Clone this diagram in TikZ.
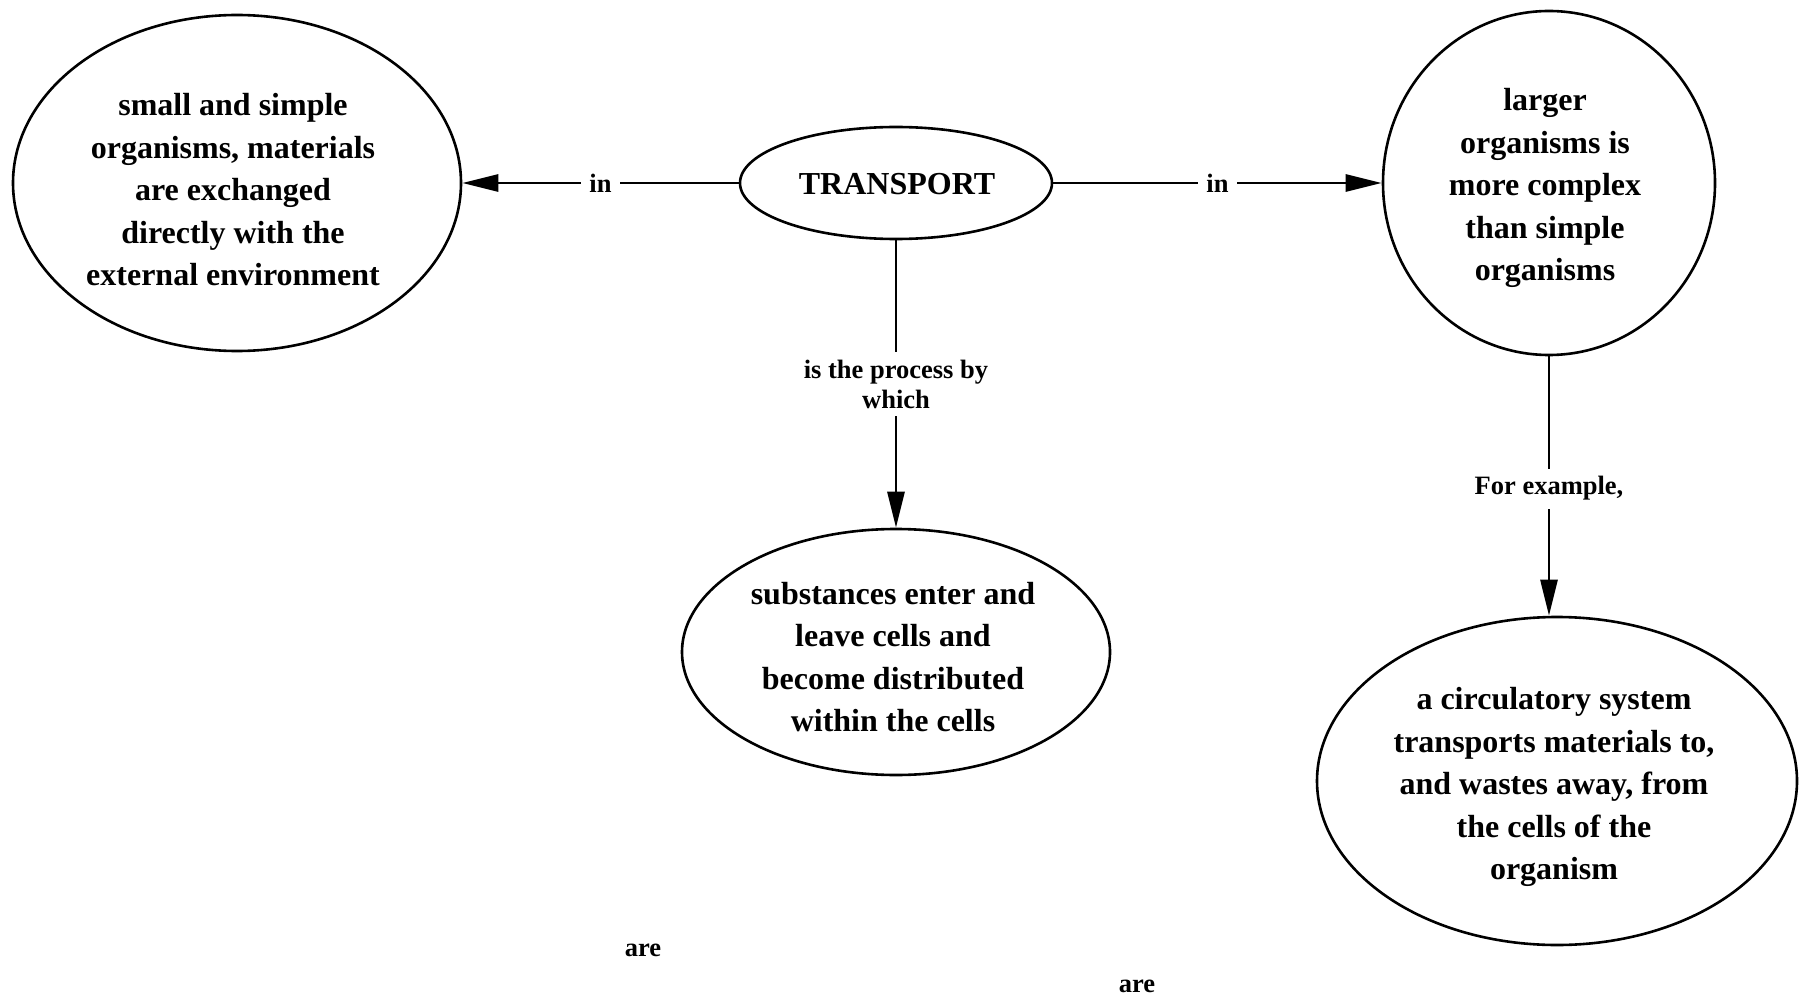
\documentclass[tikz,border=0pt]{standalone}
\usepackage{fontspec}
\setmainfont{Liberation Serif}
\usetikzlibrary{shapes.geometric,arrows.meta}
\begin{document}
\begin{tikzpicture}[x=1pt,y=-1pt,
  concept/.style={ellipse,draw,line width=2.6pt,inner sep=0pt},
  ctext/.style={inner sep=0pt,align=center,
    font=\fontsize{32}{42.5}\selectfont\bfseries},
  link/.style={line width=2.8pt,-{Triangle[length=36pt,width=17pt]}},
  lbl/.style={fill=white,inner sep=8pt,align=center,
    font=\fontsize{26.5}{30}\selectfont\bfseries}]
\useasboundingbox (0,0) rectangle (1804,1000);

% concept outlines
\node[concept,minimum width=312pt,minimum height=112pt] (transport) at (896,183) {};
\node[concept,minimum width=448pt,minimum height=336pt] (small) at (237,183) {};
\node[concept,minimum width=332pt,minimum height=344pt] (larger) at (1549,183) {};
\node[concept,minimum width=428pt,minimum height=246pt] (cells) at (896,652) {};
\node[concept,minimum width=480pt,minimum height=328pt] (circ) at (1557,781) {};

% concept texts
\node[ctext] (transport-t) at ([xshift=1pt,yshift=-1pt]transport.center) {TRANSPORT};
\node[ctext] (small-t) at ([xshift=-4pt,yshift=-7pt]small.center)
  {small and simple\\organisms, materials\\are exchanged\\directly with the\\external environment};
\node[ctext] (larger-t) at ([xshift=-4pt,yshift=-5pt]larger.center)
  {larger\\organisms is\\more complex\\than simple\\organisms};
\node[ctext] (cells-t) at ([xshift=-3pt,yshift=-5pt]cells.center)
  {substances enter and\\leave cells and\\become distributed\\within the cells};
\node[ctext] (circ-t) at ([xshift=-3pt,yshift=-6pt]circ.center)
  {a circulatory system\\transports materials to,\\and wastes away, from\\the cells of the\\organism};

% links
\draw[link] (transport) -- node[lbl] {in} (small);
\draw[link] (transport) -- node[lbl] {in} (larger);
\draw[link] (transport) -- node[lbl] {is the process by\\which} (cells);
\draw[link] (larger.south) -- node[lbl,pos=0.51] {For example,} (larger.south |- circ.north);

% loose labels
\node[lbl,fill=none] (are1) at (643,950) {are};
\node[lbl,fill=none] (are2) at (1137,986) {are};
\end{tikzpicture}
\end{document}
